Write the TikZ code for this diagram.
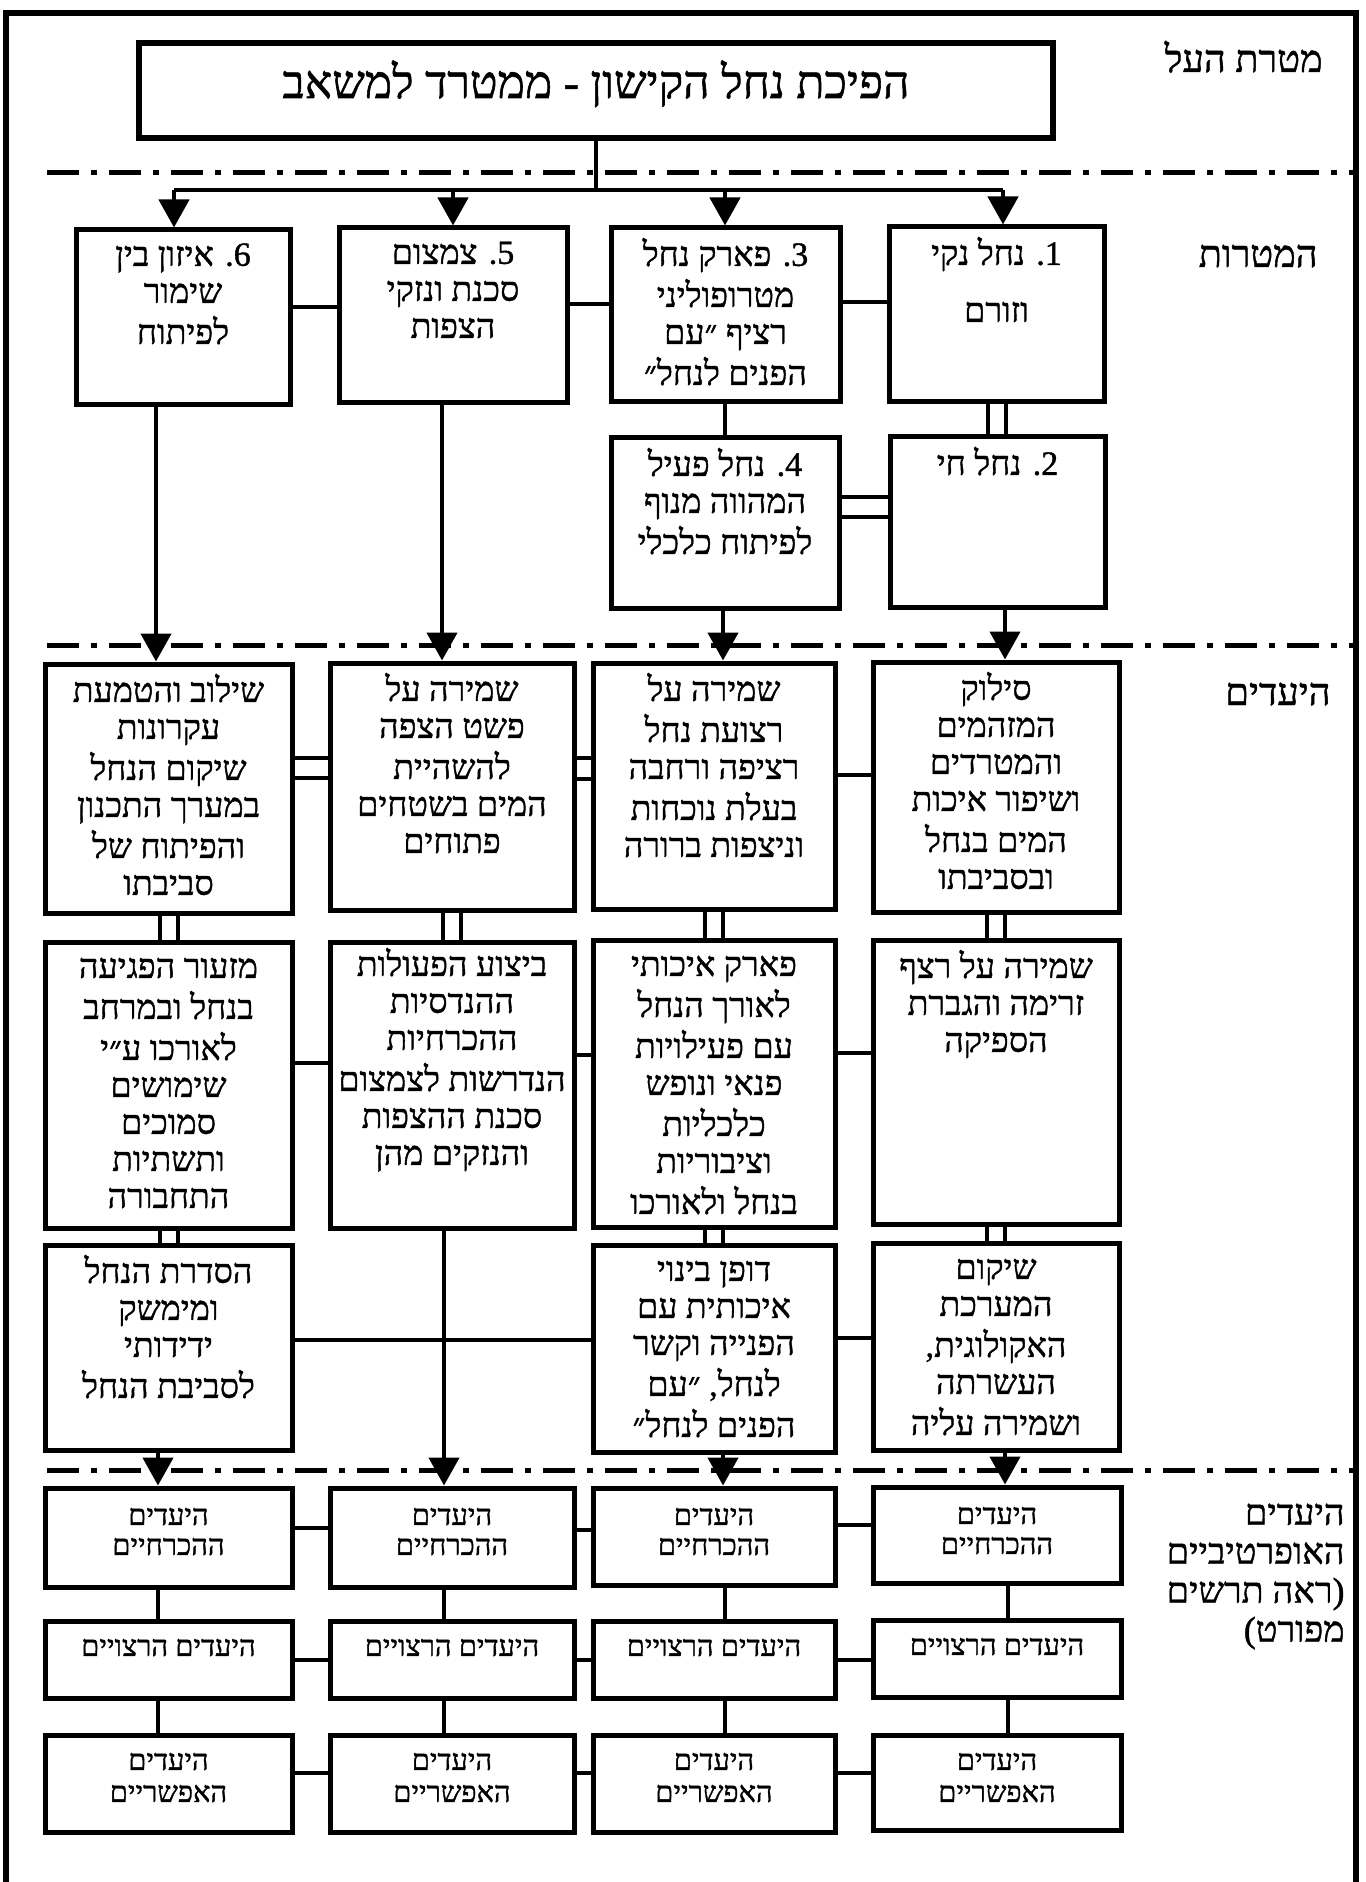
\documentclass[tikz,border=0pt]{standalone}
\usepackage{fontspec}
\newfontfamily\hebfont[Script=Hebrew,FakeBold=1.2]{Liberation Serif}
\TeXXeTstate=1
\usetikzlibrary{arrows.meta,fit}
\newcommand\heb[1]{\strut\beginR #1\endR}
\newcommand\tbox[8]{%
  \node[box, fit={(#2,#3) (#4,#5)}] (#1) {};
  \node[#6, anchor=north] (#1-t) at ([yshift=-#7]#1.north) {#8};}
\begin{document}
\begin{tikzpicture}[x=0.5pt,y=-0.5pt,
  box/.style={draw, line width=2.5pt, inner sep=0pt},
  txt/.style={inner sep=0pt, align=center, font=\hebfont\fontsize{17}{18.5}\selectfont},
  small/.style={inner sep=0pt, align=center, font=\hebfont\fontsize{14.5}{15}\selectfont},
  lbl/.style={inner sep=0pt, font=\hebfont\fontsize{19}{22}\selectfont},
  lbltwo/.style={inner sep=0pt, align=right, font=\hebfont\fontsize{18}{19.5}\selectfont},
  conn/.style={line width=2.25pt},
  dbl/.style={line width=2pt},
  arr/.style={line width=2.25pt, -{Triangle[width=15pt,length=14pt]}},
  sep/.style={line width=2.5pt, dash pattern=on 16pt off 6pt on 3pt off 6pt},
]
\useasboundingbox (0,0) rectangle (1365,1882);
% frame
\draw[line width=2.75pt] (6,1890) -- (6,13) -- (1356,13) -- (1356,1890);
% separators
\draw[sep] (47,173) -- (1354,173);
\draw[sep] (47,645) -- (1354,645);
\draw[sep] (47,1470) -- (1354,1470);
% side labels
\node[lbl, anchor=base east] (L1) at (1323,72) {\beginR מטרת העל\endR};
\node[lbl, anchor=base east] (L2) at (1318,267) {\beginR המטרות\endR};
\node[lbl, anchor=base east] (L3) at (1331,705) {\beginR היעדים\endR};
\node[lbltwo, anchor=north east] (L4) at (1345,1497) {\heb{היעדים}\\\heb{האופרטיביים}\\\heb{(ראה תרשים}\\\heb{מפורט)}};
% title
\node[box, line width=2.75pt, fit={(139,43) (1053,138)}] (title) {};
\node[inner sep=0pt, anchor=base, font=\hebfont\fontsize{23}{27}\selectfont] (title-t) at (596,98) {\beginR הפיכת נחל הקישון - ממטרד למשאב\endR};
% row 1
\tbox{b6}{76}{230}{290}{405}{txt}{6pt}{\heb{6. איזון בין}\\\heb{שימור}\\\heb{לפיתוח}}
\tbox{b5}{339}{228}{567}{403}{txt}{6pt}{\heb{5. צמצום}\\\heb{סכנת ונזקי}\\\heb{הצפות}}
\tbox{b3}{611}{228}{840}{402}{txt}{6pt}{\heb{3. פארק נחל}\\\heb{מטרופוליני}\\\heb{רציף ״עם}\\\heb{הפנים לנחל״}}
\tbox{b1}{889}{227}{1104}{402}{txt}{6pt}{\heb{1. נחל נקי}\\[10pt]\heb{וזורם}}
\tbox{b4}{611}{438}{839}{608}{txt}{6pt}{\heb{4. נחל פעיל}\\\heb{המהווה מנוף}\\\heb{לפיתוח כלכלי}}
\tbox{b2}{890}{437}{1105}{607}{txt}{6pt}{\heb{2. נחל חי}}
% row 2
\tbox{oA}{45}{664}{292}{913}{txt}{6pt}{\heb{שילוב והטמעת}\\\heb{עקרונות}\\\heb{שיקום הנחל}\\\heb{במערך התכנון}\\\heb{והפיתוח של}\\\heb{סביבתו}}
\tbox{oB}{330}{663}{574}{910}{txt}{6pt}{\heb{שמירה על}\\\heb{פשט הצפה}\\\heb{להשהיית}\\\heb{המים בשטחים}\\\heb{פתוחים}}
\tbox{oC}{593}{663}{835}{909}{txt}{6pt}{\heb{שמירה על}\\\heb{רצועת נחל}\\\heb{רציפה ורחבה}\\\heb{בעלת נוכחות}\\\heb{וניצפות ברורה}}
\tbox{oD}{873}{662}{1119}{912}{txt}{6pt}{\heb{סילוק}\\\heb{המזהמים}\\\heb{והמטרדים}\\\heb{ושיפור איכות}\\\heb{המים בנחל}\\\heb{ובסביבתו}}
% row 3
\tbox{pA}{45}{942}{292}{1228}{txt}{6pt}{\heb{מזעור הפגיעה}\\\heb{בנחל ובמרחב}\\\heb{לאורכו ע״י}\\\heb{שימושים}\\\heb{סמוכים}\\\heb{ותשתיות}\\\heb{התחבורה}}
\tbox{pB}{330}{942}{574}{1228}{txt}{4pt}{\heb{ביצוע הפעולות}\\\heb{ההנדסיות}\\\heb{ההכרחיות}\\\heb{הנדרשות לצמצום}\\\heb{סכנת ההצפות}\\\heb{והנזקים מהן}}
\tbox{pC}{593}{940}{835}{1227}{txt}{6pt}{\heb{פארק איכותי}\\\heb{לאורך הנחל}\\\heb{עם פעילויות}\\\heb{פנאי ונופש}\\\heb{כלכליות}\\\heb{וציבוריות}\\\heb{בנחל ולאורכו}}
\tbox{pD}{873}{940}{1119}{1224}{txt}{6pt}{\heb{שמירה על רצף}\\\heb{זרימה והגברת}\\\heb{הספיקה}}
% row 4
\tbox{qA}{45}{1245}{292}{1450}{txt}{6pt}{\heb{הסדרת הנחל}\\\heb{ומימשק}\\\heb{ידידותי}\\\heb{לסביבת הנחל}}
\tbox{qC}{593}{1245}{835}{1452}{txt}{6pt}{\heb{דופן בינוי}\\\heb{איכותית עם}\\\heb{הפנייה וקשר}\\\heb{לנחל, ״עם}\\\heb{הפנים לנחל״}}
\tbox{qD}{873}{1243}{1119}{1450}{txt}{6pt}{\heb{שיקום}\\\heb{המערכת}\\\heb{האקולוגית,}\\\heb{העשרתה}\\\heb{ושמירה עליה}}
% row 5
\tbox{rA1}{45}{1488}{292}{1587}{small}{9pt}{\heb{היעדים}\\\heb{ההכרחיים}}
\tbox{rB1}{330}{1488}{574}{1587}{small}{9pt}{\heb{היעדים}\\\heb{ההכרחיים}}
\tbox{rC1}{593}{1488}{835}{1585}{small}{9pt}{\heb{היעדים}\\\heb{ההכרחיים}}
\tbox{rD1}{873}{1487}{1121}{1583}{small}{9pt}{\heb{היעדים}\\\heb{ההכרחיים}}
\tbox{rA2}{45}{1621}{292}{1698}{small}{8pt}{\heb{היעדים הרצויים}}
\tbox{rB2}{330}{1621}{574}{1698}{small}{8pt}{\heb{היעדים הרצויים}}
\tbox{rC2}{593}{1621}{835}{1698}{small}{8pt}{\heb{היעדים הרצויים}}
\tbox{rD2}{873}{1620}{1121}{1697}{small}{8pt}{\heb{היעדים הרצויים}}
\tbox{rA3}{45}{1735}{292}{1832}{small}{8pt}{\heb{היעדים}\\[1pt]\heb{האפשריים}}
\tbox{rB3}{330}{1735}{574}{1832}{small}{8pt}{\heb{היעדים}\\[1pt]\heb{האפשריים}}
\tbox{rC3}{593}{1735}{835}{1832}{small}{8pt}{\heb{היעדים}\\[1pt]\heb{האפשריים}}
\tbox{rD3}{873}{1735}{1121}{1830}{small}{8pt}{\heb{היעדים}\\[1pt]\heb{האפשריים}}
% title to goals
\coordinate (k6) at (174,190);
\coordinate (k5) at (453,190);
\coordinate (k3) at (725,190);
\coordinate (k1) at (1003,190);
\draw[conn] (title.south) -- (title.south |- k1);
\draw[conn] (k6) -- (k1);
\draw[arr] (k6) -- (k6 |- b6.north);
\draw[arr] (k5) -- (k5 |- b5.north);
\draw[arr] (k3) -- (k3 |- b3.north);
\draw[arr] (k1) -- (k1 |- b1.north);
% row 1 links
\draw[conn] (b6.east |- 0,307) -- (b5.west |- 0,307);
\draw[conn] (b5.east |- 0,304) -- (b3.west |- 0,304);
\draw[conn] (b3.east |- 0,302) -- (b1.west |- 0,302);
\draw[dbl] ([xshift=-4.5pt]b1.south) -- ([xshift=-4.5pt]b1.south |- b2.north);
\draw[dbl] ([xshift=4.5pt]b1.south) -- ([xshift=4.5pt]b1.south |- b2.north);
\draw[conn] (b3.south -| 725,0) -- (b4.north -| 725,0);
\draw[dbl] (b4.east |- 0,497) -- (b2.west |- 0,497);
\draw[dbl] (b4.east |- 0,517) -- (b2.west |- 0,517);
% goals to objectives
\draw[arr] (b6.south -| 156,0) -- (oA.north -| 156,0);
\draw[arr] (b5.south -| 442,0) -- (oB.north -| 442,0);
\draw[arr] (b4.south -| 723,0) -- (oC.north -| 723,0);
\draw[arr] (b2.south -| 1005,0) -- (oD.north -| 1005,0);
% row 2 links
\draw[dbl] (oA.east |- 0,758) -- (oB.west |- 0,758);
\draw[dbl] (oA.east |- 0,778) -- (oB.west |- 0,778);
\draw[dbl] (oB.east |- 0,758) -- (oC.west |- 0,758);
\draw[dbl] (oB.east |- 0,779) -- (oC.west |- 0,779);
\draw[conn] (oC.east |- 0,775) -- (oD.west |- 0,775);
\foreach \u/\v in {oA/pA,oB/pB,oC/pC,oD/pD,pA/qA,pC/qC,pD/qD}{
  \draw[dbl] ([xshift=-4.5pt]\u.south) -- ([xshift=-4.5pt]\u.south |- \v.north);
  \draw[dbl] ([xshift=4.5pt]\u.south) -- ([xshift=4.5pt]\u.south |- \v.north);
}
% row 3 links
\draw[conn] (pA.east |- 0,1063) -- (pB.west |- 0,1063);
\draw[conn] (pB.east |- 0,1055) -- (pC.west |- 0,1055);
\draw[conn] (pC.east |- 0,1053) -- (pD.west |- 0,1053);
\draw[arr] (pB.south -| 444,0) -- (rB1.north -| 444,0);
% row 4 links
\draw[conn] (qA.east |- 0,1340) -- (qC.west |- 0,1340);
\draw[conn] (qC.east |- 0,1338) -- (qD.west |- 0,1338);
\draw[arr] (qA.south -| 158,0) -- (rA1.north -| 158,0);
\draw[arr] (qC.south -| 723,0) -- (rC1.north -| 723,0);
\draw[arr] (qD.south -| 1005,0) -- (rD1.north -| 1005,0);
% row 5 links
\draw[conn] (rA1.east |- 0,1528) -- (rB1.west |- 0,1528);
\draw[conn] (rB1.east |- 0,1530) -- (rC1.west |- 0,1530);
\draw[conn] (rC1.east |- 0,1525) -- (rD1.west |- 0,1525);
\draw[conn] (rA2.east |- 0,1660) -- (rB2.west |- 0,1660);
\draw[conn] (rB2.east |- 0,1660) -- (rC2.west |- 0,1660);
\draw[conn] (rC2.east |- 0,1660) -- (rD2.west |- 0,1660);
\draw[conn] (rA3.east |- 0,1773) -- (rB3.west |- 0,1773);
\draw[conn] (rB3.east |- 0,1773) -- (rC3.west |- 0,1773);
\draw[conn] (rC3.east |- 0,1773) -- (rD3.west |- 0,1773);
\foreach \c/\x in {A/158,B/444,C/725,D/1008}{
  \draw[conn] (r\c1.south -| \x,0) -- (r\c2.north -| \x,0);
  \draw[conn] (r\c2.south -| \x,0) -- (r\c3.north -| \x,0);
}
\end{tikzpicture}
\end{document}
